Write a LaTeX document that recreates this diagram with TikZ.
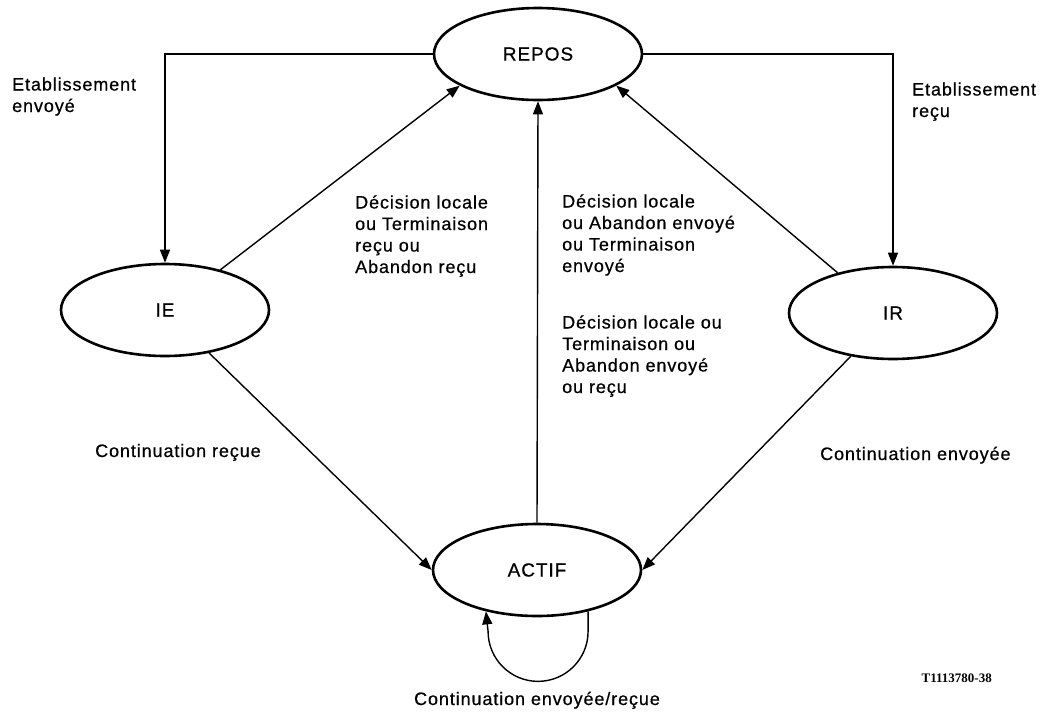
\documentclass[tikz,border=0pt]{standalone}
\usepackage{fontspec}
\setmainfont{Liberation Sans}[LetterSpace=5,FakeBold=0.6]
\newfontfamily\refont{Liberation Serif}
\usetikzlibrary{shapes.geometric,arrows.meta}
\tikzset{
  st/.style={ellipse,draw,line width=2.6pt,minimum width=208pt,minimum height=92pt,inner sep=0pt,font=\fontsize{19}{22}\selectfont},
  lbl/.style={inner sep=0pt,align=left,anchor=base west,font=\fontsize{18}{21.5}\selectfont},
  tr/.style={line width=1.4pt,-{Triangle[length=13pt,width=10pt]}},
}
\begin{document}
\begin{tikzpicture}
\useasboundingbox[fill=white] (0,0) rectangle (1044pt,-715pt);
\node[st] (REPOS) at (538pt,-54pt) {REPOS};
\node[st] (IE) at (165pt,-310pt) {IE};
\node[st] (IR) at (893pt,-313pt) {IR};
\node[st] (ACTIF) at (537pt,-570pt) {ACTIF};
% etablissement
\draw[tr] (REPOS.west) -| (IE.north);
\draw[tr] (REPOS.east) -| (IR.north);
% returns to REPOS
\draw[tr] (IE.36) -- (REPOS.202);
\draw[tr] (IR.144) -- (REPOS.338);
\draw[tr] (ACTIF.north) -- (REPOS.south);
% to ACTIF
\draw[tr] (IE) -- (ACTIF.west);
\draw[tr] (IR) -- (ACTIF.east);
% self loop
\draw[tr] (ACTIF.-39) -- ++(0,-20pt) arc[start angle=0,end angle=-180,radius=50pt] -- (ACTIF.-141);
% labels (base = baseline of last line)
\node[lbl] (l1) at (12pt,-112pt) {Etablissement\\envoyé};
\node[lbl] (l2) at (912pt,-117pt) {Etablissement\\reçu};
\node[lbl] (l3) at (355pt,-273pt) {Décision locale\\ou Terminaison\\reçu ou\\Abandon reçu};
\node[lbl] (l4) at (562pt,-272pt) {Décision locale\\ou Abandon envoyé\\ou Terminaison\\envoyé};
\node[lbl] (l5) at (562pt,-393pt) {Décision locale ou\\Terminaison ou\\Abandon envoyé\\ou reçu};
\node[lbl] (l6) at (95pt,-457pt) {Continuation reçue};
\node[lbl] (l7) at (820pt,-460pt) {Continuation envoyée};
\node[lbl,anchor=base] (l8) at (537pt,-705pt) {Continuation envoyée/reçue};
\node[inner sep=0pt,anchor=base east,font=\refont\bfseries\fontsize{13}{15}\selectfont] (ref) at (992pt,-682pt) {T1113780-38};
\end{tikzpicture}
\end{document}
